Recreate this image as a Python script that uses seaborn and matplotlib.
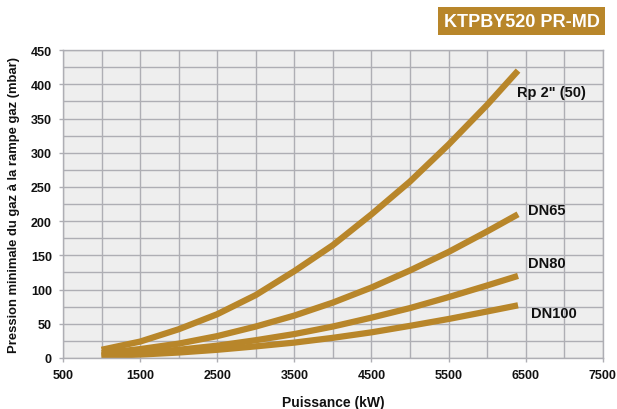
import pandas as pd
import seaborn as sns
import matplotlib
matplotlib.use('Agg')
import matplotlib.pyplot as plt
from matplotlib.ticker import MultipleLocator

# puissance (kW) and pressure readings (mbar) per gas train size
power = [1000, 1500, 2000, 2500, 3000, 3500, 4000, 4500, 5000, 5500, 6000, 6400]
rp50 = [12, 24, 42, 64, 92, 127, 165, 210, 258, 312, 370, 420]
dn65 = [7, 13, 21, 32, 46, 62, 81, 103, 128, 155, 185, 210]
dn80 = [4, 7.5, 12, 18, 26, 35, 46, 59, 73, 89, 106, 120]
dn100 = [3, 5, 8, 12, 17, 22.5, 29.5, 37.5, 47, 57, 68, 77]
series_names = ['Rp 2" (50)', 'DN65', 'DN80', 'DN100']
label_pos = [(6385, 389), (6528, 216), (6528, 139), (6567, 66)]
xticks = [500, 1500, 2500, 3500, 4500, 5500, 6500, 7500]

sns.set_theme(style="whitegrid")
plt.rcParams['font.family'] = ['Liberation Sans', 'DejaVu Sans']
plt.rcParams['text.color'] = '#111111'
plt.rcParams['axes.labelcolor'] = '#111111'
plt.rcParams['xtick.labelcolor'] = '#111111'
plt.rcParams['ytick.labelcolor'] = '#111111'

df = pd.DataFrame({'power': power, series_names[0]: rp50, series_names[1]: dn65,
                   series_names[2]: dn80, series_names[3]: dn100})
long = df.melt(id_vars='power', var_name='serie', value_name='pression')

gold = '#B8862A'
grid_c = '#AEAEB4'
fig = plt.figure(figsize=(6.17, 4.10), dpi=100)
ax = fig.add_axes([0.1021, 0.1244, 0.875, 0.751])
ax.set_facecolor('#EEEEEE')

sns.lineplot(data=long, x='power', y='pression', units='serie', estimator=None,
             color=gold, linewidth=4.5, solid_capstyle='butt', ax=ax, legend=False)

ax.set_xlim(500, 7500)
ax.set_ylim(0, 450)
ax.set_xticks(xticks)
ax.xaxis.set_minor_locator(MultipleLocator(500))
ax.yaxis.set_major_locator(MultipleLocator(50))
ax.yaxis.set_minor_locator(MultipleLocator(25))
ax.grid(which='both', color=grid_c, linewidth=1.0)
ax.set_axisbelow(True)
for s in ax.spines.values():
    s.set_color(grid_c)
    s.set_linewidth(1.0)
ax.tick_params(axis='both', which='major', labelsize=9, length=3, width=1,
               color=grid_c, direction='out', left=True, bottom=True, pad=5)
ax.tick_params(which='minor', length=0)
for lbl in ax.get_xticklabels() + ax.get_yticklabels():
    lbl.set_fontweight('bold')

ax.set_xlabel('Puissance (kW)', fontsize=10, fontweight='bold', labelpad=10)
ax.set_ylabel('Pression minimale du gaz à la rampe gaz (mbar)', fontsize=9.4,
              fontweight='bold', labelpad=8)

for name, (lx, ly) in zip(series_names, label_pos):
    ax.text(lx, ly, name, fontsize=10.5, fontweight='bold', va='center', ha='left')

fig.text(0.972, 0.946, 'KTPBY520 PR-MD', color='white', fontsize=13, fontweight='bold',
         va='center', ha='right',
         bbox=dict(boxstyle='square,pad=0.3', facecolor=gold, edgecolor='none'))

plt.savefig('out.png', dpi=100)
plt.close()
